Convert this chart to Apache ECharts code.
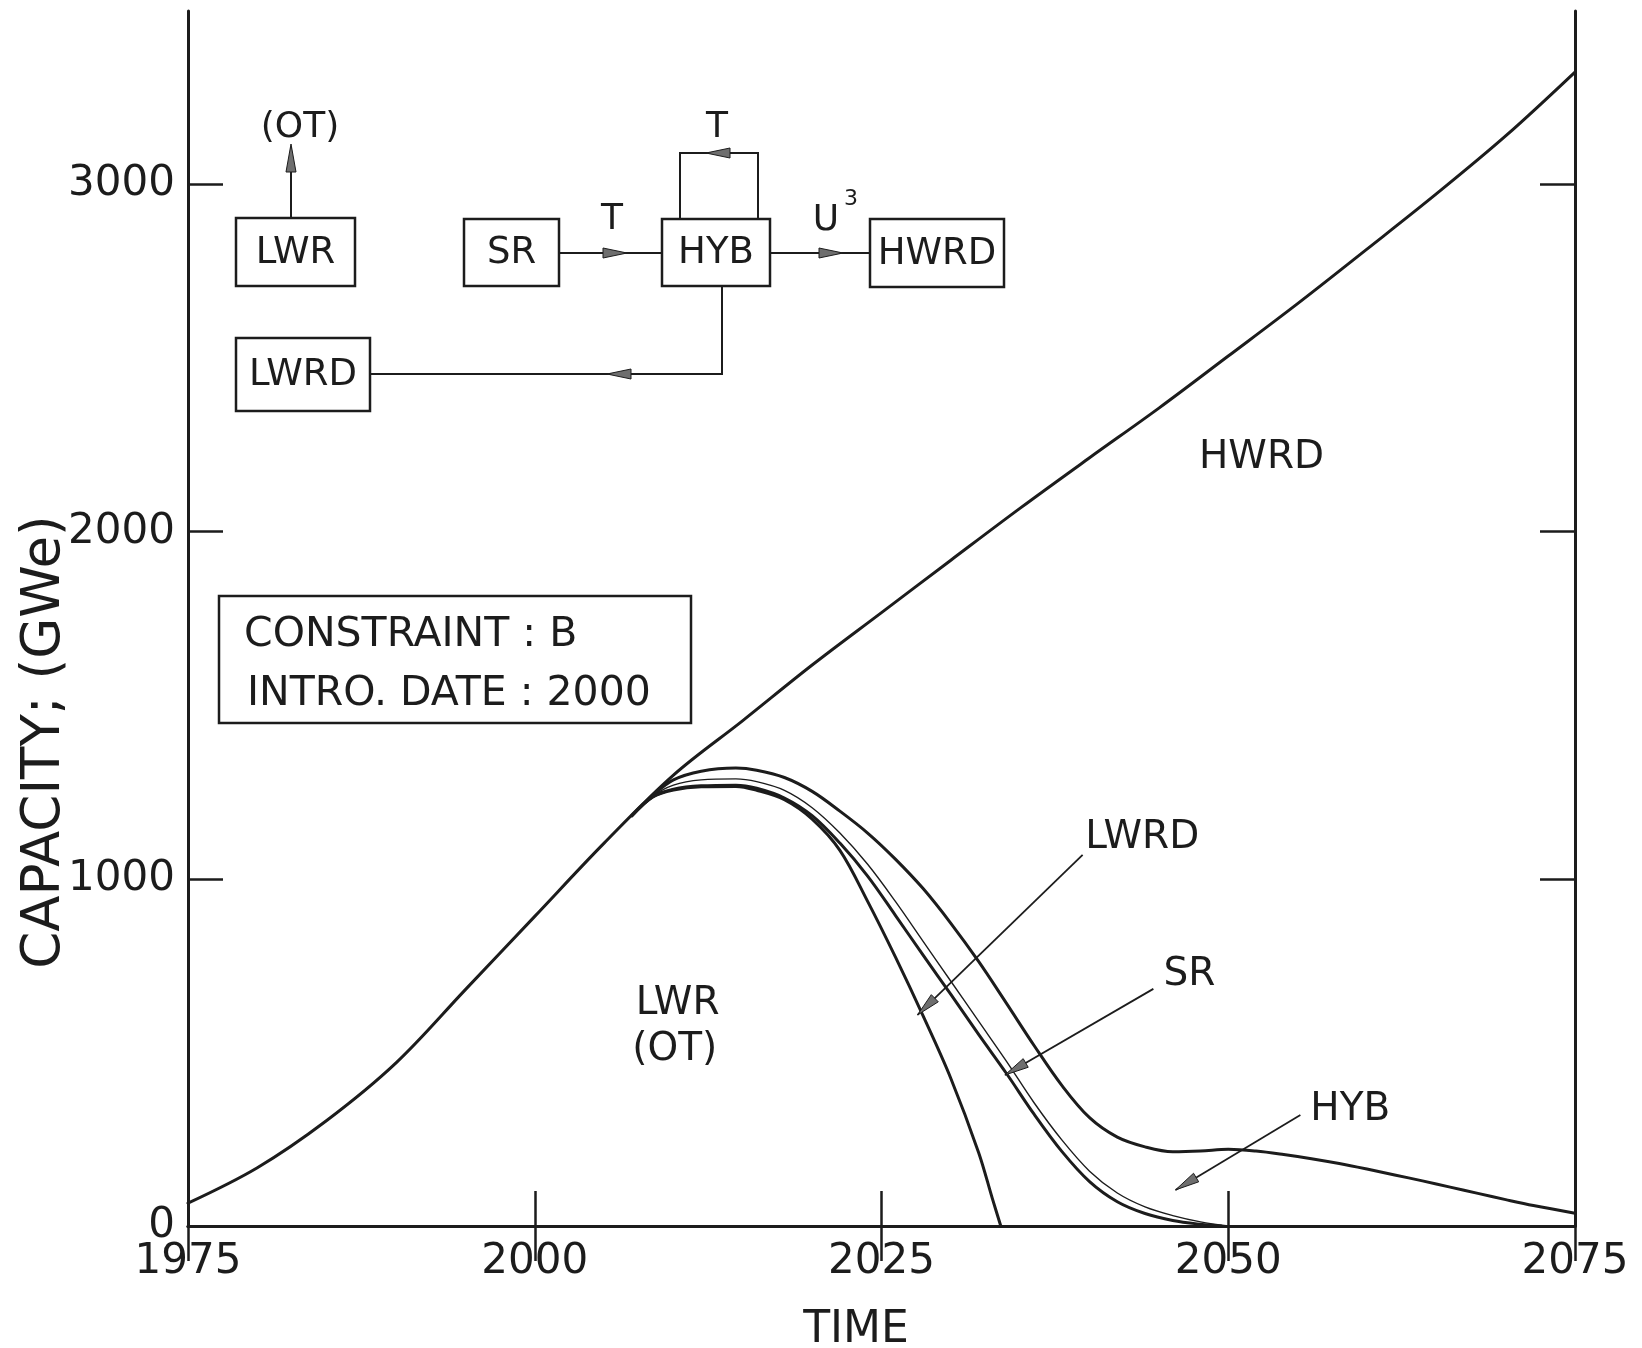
<!DOCTYPE html>
<html>
<head>
<meta charset="utf-8">
<script src="https://cdn.jsdelivr.net/npm/echarts@6.0.0/dist/echarts.min.js"></script>
<style>
  html, body { margin: 0; padding: 0; background: #ffffff; }
  #chart { width: 1642px; height: 1348px; }
</style>
</head>
<body>
<div id="chart"></div>
<script>
// Installed nuclear capacity (GWe) by reactor type, stacked.
// Each array is the cumulative upper boundary of one region of the stack.

// Total capacity (top of the HWRD region)
const totalYears = [1975, 1980, 1985, 1990, 1995, 2000, 2005, 2010, 2015, 2020, 2025, 2030, 2035, 2040, 2045, 2050, 2055, 2060, 2065, 2070, 2075];
const totalGWe   = [66, 168, 304, 470, 681, 892, 1103, 1299, 1456, 1616, 1767, 1918, 2068, 2213, 2356, 2506, 2657, 2814, 2973, 3140, 3324];

// LWR + LWRD + SR + HYB (top of the HYB region)
const hybTopYears = [2007, 2008.5, 2010, 2012, 2014.5, 2016, 2018, 2020, 2022, 2024, 2026, 2028, 2030, 2032, 2034, 2036, 2038, 2040, 2042, 2044, 2046, 2048, 2050, 2052, 2054, 2056, 2058, 2060, 2062, 2064, 2066, 2068, 2070, 2072, 2075];
const hybTopGWe   = [1182, 1240, 1285, 1310, 1319, 1313, 1292, 1252, 1195, 1132, 1057, 972, 872, 762, 642, 520, 405, 312, 256, 228, 214, 216, 221, 216, 206, 194, 180, 164, 147, 130, 112, 94, 76, 59, 37];

// LWR + LWRD + SR (top of the SR region)
const srTopYears = [2007, 2008.5, 2010, 2012, 2014.5, 2016, 2018, 2020, 2022, 2024, 2026, 2028, 2030, 2032, 2034, 2036, 2038, 2040, 2042, 2044, 2046, 2048, 2050];
const srTopGWe   = [1182, 1238, 1270, 1285, 1288, 1280, 1255, 1205, 1132, 1042, 935, 820, 705, 590, 475, 355, 248, 158, 95, 55, 30, 12, 0];

// LWR + LWRD (top of the LWRD region)
const lwrdTopYears = [2007, 2008.5, 2010, 2012, 2014.5, 2016, 2018, 2020, 2022, 2024, 2026, 2028, 2030, 2032, 2034, 2036, 2038, 2040, 2042, 2044, 2046, 2048, 2049.5];
const lwrdTopGWe   = [1182, 1236, 1258, 1268, 1270, 1261, 1233, 1182, 1103, 1008, 895, 780, 667, 552, 440, 322, 215, 128, 70, 36, 16, 5, 0];

// LWR once-through (top of the LWR region)
const lwrYears = [2007, 2008.5, 2010, 2012, 2014.5, 2016, 2018, 2020, 2022, 2024, 2026, 2028, 2030, 2032, 2033, 2033.6];
const lwrGWe   = [1182, 1236, 1256, 1265, 1266, 1255, 1228, 1172, 1082, 935, 775, 605, 425, 212, 78, 0];

const yTickValues = [0, 1000, 2000, 3000];

// Region labels and leader arrows, in data units [year, GWe]
const regionLabels = [
  { text: 'HWRD', at: [2052.4, 2212] },
  { text: 'LWRD', at: [2043.8, 1118] },
  { text: 'SR',   at: [2047.2, 724] },
  { text: 'HYB',  at: [2058.8, 334] },
  { text: 'LWR',  at: [2010.3, 641] },
  { text: '(OT)', at: [2010.1, 506] }
];
const leaders = [
  { from: [2039.5, 1069], to: [2027.6, 608] },
  { from: [2044.6, 683],  to: [2033.9, 435] },
  { from: [2055.2, 320],  to: [2046.2, 104] }
];

const INK = '#1c1c1c';
const HEAD = '#6e6e6e';
const FONT = 'DejaVu Sans';

const pairs = (xs, ys) => xs.map((x, i) => [x, ys[i]]);
const plain = (v) => String(v);

function curve(name, xs, ys, width) {
  return {
    name: name,
    type: 'line',
    data: pairs(xs, ys),
    smooth: 0.35,
    showSymbol: false,
    symbol: 'none',
    silent: true,
    lineStyle: { color: INK, width: width, cap: 'round', join: 'round' },
    z: 3
  };
}

const chart = echarts.init(document.getElementById('chart'), null, { renderer: 'canvas' });

const frameLine = { show: true, lineStyle: { color: INK, width: 3 } };
const innerTick = { show: true, inside: true, length: 35, lineStyle: { color: INK, width: 2.5 } };

chart.setOption({
  animation: false,
  backgroundColor: '#ffffff',
  grid: { left: 188, top: 11, width: 1387, height: 1215, containLabel: false },
  xAxis: [
    {
      type: 'value', position: 'bottom', min: 1975, max: 2075, interval: 25,
      axisLine: frameLine, axisTick: innerTick, splitLine: { show: false },
      axisLabel: { fontFamily: FONT, fontSize: 42, color: INK, margin: 15, formatter: plain }
    },
    {
      type: 'value', position: 'top', min: 1975, max: 2075, interval: 25,
      axisLine: frameLine, axisTick: innerTick, splitLine: { show: false },
      axisLabel: { show: false }
    }
  ],
  yAxis: [
    {
      type: 'value', position: 'left', min: 0, max: 3500, interval: 1000,
      axisLine: frameLine,
      axisTick: Object.assign({}, innerTick, { customValues: yTickValues }),
      splitLine: { show: false },
      axisLabel: { fontFamily: FONT, fontSize: 42, color: INK, margin: 13,
                   customValues: yTickValues, formatter: plain }
    },
    {
      type: 'value', position: 'right', min: 0, max: 3500, interval: 1000,
      axisLine: frameLine,
      axisTick: Object.assign({}, innerTick, { customValues: yTickValues }),
      splitLine: { show: false },
      axisLabel: { show: false }
    }
  ],
  series: [
    curve('Total', totalYears, totalGWe, 3),
    curve('HYB top', hybTopYears, hybTopGWe, 3),
    curve('SR top', srTopYears, srTopGWe, 1.4),
    curve('LWRD top', lwrdTopYears, lwrdTopGWe, 3),
    curve('LWR', lwrYears, lwrGWe, 3)
  ]
});

// ---------- annotations ----------
const g = [];
const toPx = (p) => chart.convertToPixel({ gridIndex: 0 }, p);

function text(str, x, y, size, align) {
  g.push({
    type: 'text', x: x, y: y, z: 10, silent: true,
    style: { text: str, fontFamily: FONT, fontSize: size, fill: INK,
             align: align || 'center', verticalAlign: 'middle' }
  });
}
function rect(x, y, w, h) {
  g.push({
    type: 'rect', z: 9, silent: true,
    shape: { x: x, y: y, width: w, height: h },
    style: { fill: '#ffffff', stroke: INK, lineWidth: 2.5 }
  });
}
function poly(points, width) {
  g.push({
    type: 'polyline', z: 9, silent: true,
    shape: { points: points },
    style: { stroke: INK, lineWidth: width || 2, fill: null }
  });
}
// Filled arrowhead with its tip at `tip`, pointing away from `from`
function head(tip, from, len, half) {
  const dx = tip[0] - from[0], dy = tip[1] - from[1];
  const d = Math.hypot(dx, dy);
  const ux = dx / d, uy = dy / d;
  const bx = tip[0] - ux * len, by = tip[1] - uy * len;
  g.push({
    type: 'polygon', z: 11, silent: true,
    shape: { points: [tip, [bx - uy * half, by + ux * half], [bx + uy * half, by - ux * half]] },
    style: { fill: HEAD, stroke: INK, lineWidth: 1 }
  });
}

// region labels and leaders on the plot
regionLabels.forEach(l => {
  const p = toPx(l.at);
  text(l.text, p[0], p[1], 39);
});
leaders.forEach(l => {
  const a = toPx(l.from), b = toPx(l.to);
  poly([a, b], 1.8);
  head(b, a, 24, 5);
});

// flow diagram of the fuel cycle
const boxes = [
  { label: 'LWR',  x: 236, y: 218, w: 119, h: 68 },
  { label: 'SR',   x: 464, y: 219, w: 95,  h: 67 },
  { label: 'HYB',  x: 662, y: 219, w: 108, h: 67 },
  { label: 'HWRD', x: 870, y: 219, w: 134, h: 68 },
  { label: 'LWRD', x: 236, y: 338, w: 134, h: 73 }
];
poly([[291, 218], [291, 147]], 2);
head([291, 144], [291, 218], 28, 5);
text('(OT)', 300, 128, 36);

poly([[559, 253], [662, 253]], 2);
head([627, 253], [559, 253], 24, 5);
text('T', 612, 220, 36);

poly([[680, 219], [680, 153], [758, 153], [758, 219]], 2);
head([706, 153], [758, 153], 24, 5);
text('T', 717, 128, 36);

poly([[770, 253], [870, 253]], 2);
head([843, 253], [770, 253], 24, 5);
text('U', 826, 221, 36);
text('3', 851, 199, 22);

poly([[722, 286], [722, 374], [370, 374]], 2);
head([607, 374], [722, 374], 24, 5);

boxes.forEach(b => {
  rect(b.x, b.y, b.w, b.h);
  text(b.label, b.x + b.w / 2, b.y + b.h / 2 + 1, 37);
});

// scenario box
rect(219, 596, 472, 127);
text('CONSTRAINT : B', 244, 635, 41, 'left');
text('INTRO. DATE : 2000', 247, 694, 41, 'left');

// axis titles
text('TIME', 856, 1331, 44);
g.push({
  type: 'text', x: 45, y: 742, rotation: Math.PI / 2, z: 10, silent: true,
  style: { text: 'CAPACITY; (GWe)', fontFamily: FONT, fontSize: 53, fill: INK,
           align: 'center', verticalAlign: 'middle' }
});

chart.setOption({ graphic: { elements: g } });
</script>
</body>
</html>
